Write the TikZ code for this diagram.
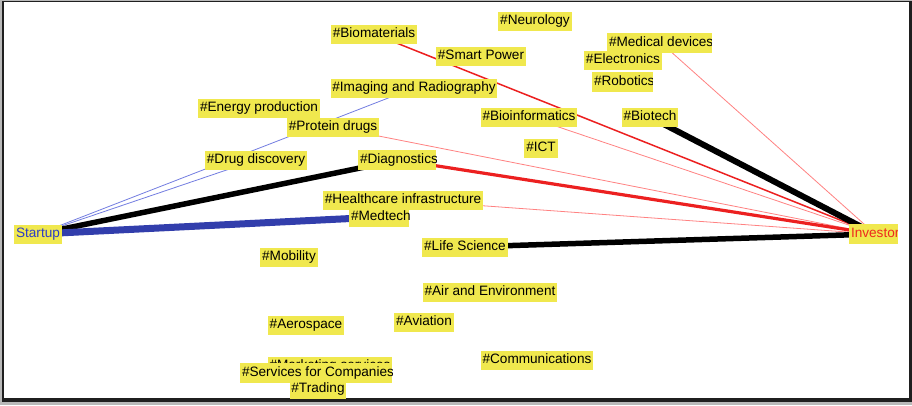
\documentclass[tikz,border=0pt]{standalone}
\usepackage{fontspec}
\setmainfont{Liberation Sans}

\pgfdeclarelayer{frame}
\pgfdeclarelayer{links}
\pgfsetlayers{frame,links,main}

\definecolor{tagyellow}{RGB}{240,232,78}
\definecolor{startblue}{RGB}{45,60,200}
\definecolor{investred}{RGB}{238,40,30}
\definecolor{lightblue}{RGB}{115,125,225}
\definecolor{deepblue}{RGB}{50,62,172}
\definecolor{linkred}{RGB}{236,32,32}
\definecolor{linkpink}{RGB}{255,130,130}

\newcommand\tagfont{\fontsize{13.6}{16}\selectfont}

\tikzset{
  tag/.style={fill=tagyellow, font=\tagfont, text height=10pt, text depth=3pt,
              inner xsep=1.8pt, inner ysep=3pt},
  tagtext/.style={font=\tagfont, text height=10pt, text depth=3pt,
                  inner xsep=1.8pt, inner ysep=3pt},
  thinblue/.style={draw=lightblue, line width=0.8pt},
  thickblue/.style={draw=deepblue, line width=7pt},
  heavy/.style={draw=black, line width=5.5pt},
  pinkline/.style={draw=linkpink, line width=0.8pt},
  redline/.style={draw=linkred, line width=1.5pt},
  boldred/.style={draw=linkred, line width=3.2pt},
}

% a tag whose box stops just short of its last letter
\newcommand\cuttag[4][]{%
  \node[tagtext, anchor=west] (#2) at (#3) {\phantom{#4}};
  \fill[tagyellow] (#2.south west) rectangle ([xshift=-3.5pt]#2.north east);
  \begin{scope}
    \clip (#2.south west) rectangle ([xshift=-3.5pt]#2.north east);
    \node[tagtext, anchor=west, #1] at (#2.west) {#4};
  \end{scope}}

\begin{document}
\begin{tikzpicture}[x=1pt, y=-1pt]
\useasboundingbox (0,0) rectangle (912,405);

% window frame
\begin{pgfonlayer}{frame}
  \fill[gray!55] (0,0) rectangle (912,405);
  \fill[black!88] (1.5,0.5) rectangle (912,401.5);
  \fill[white] (3.8,2) rectangle (908.8,398);
\end{pgfonlayer}

% tags
\node[tag] (neuro)   at (535,21)  {\#Neurology};
\node[tag] (biomat)  at (374,34)  {\#Biomaterials};
\node[tag] (smart)   at (481,56)  {\#Smart Power};
\cuttag{meddev}{607,43}{\#Medical devices}
\node[tag] (electr)  at (623,60)  {\#Electronics};
\cuttag{robot}{592,82}{\#Robotics}
\node[tag] (imaging) at (414,88)  {\#Imaging and Radiography};
\node[tag] (energy)  at (259,108) {\#Energy production};
\node[tag] (protein) at (333,127) {\#Protein drugs};
\node[tag] (bioinf)  at (529,117) {\#Bioinformatics};
\node[tag] (biotech) at (650,117) {\#Biotech};
\node[tag] (ict)     at (541,148) {\#ICT};
\node[tag] (drug)    at (256,160) {\#Drug discovery};
\cuttag{diag}{358,160}{\#Diagnostics}
\node[tag] (health)  at (403,200) {\#Healthcare infrastructure};
\cuttag{medtech}{349,217}{\#Medtech}
\node[tag, text=startblue] (startup) at (38,234) {Startup};
\cuttag[text=investred]{investor}{849,234}{Investor}
\node[tag] (life)    at (465,247) {\#Life Science};
\node[tag] (mobil)   at (289,257) {\#Mobility};
\node[tag] (air)     at (490,292) {\#Air and Environment};
\node[tag] (aviat)   at (424,322) {\#Aviation};
\node[tag] (aero)    at (306,325) {\#Aerospace};
\node[tag] (comm)    at (537,360) {\#Communications};
\node[tag] (market)  at (330,366) {\#Marketing services};
\cuttag{services}{240,373}{\#Services for Companies}
\node[tag] (trading) at (318,389) {\#Trading};

% links, behind the tags
\begin{pgfonlayer}{links}
  \draw[thinblue]  (startup.center) -- (drug.center);
  \draw[thinblue]  (startup.center) -- (imaging.center);
  \draw[heavy]     (startup.center) -- (diag.center);
  \draw[thickblue] (startup.center) -- (medtech.center);

  \draw[pinkline]  (investor.center) -- (meddev.center);
  \draw[pinkline]  (investor.center) -- (protein.center);
  \draw[pinkline]  (investor.center) -- (bioinf.center);
  \draw[pinkline]  (investor.center) -- (health.center);
  \draw[redline]   (investor.center) -- (biomat.center);
  \draw[boldred]   (investor.center) -- (diag.center);
  \draw[heavy, line width=6pt] (investor.center) -- (biotech.center);
  \draw[heavy]     (investor.center) -- (life.center);
\end{pgfonlayer}
\end{tikzpicture}
\end{document}
